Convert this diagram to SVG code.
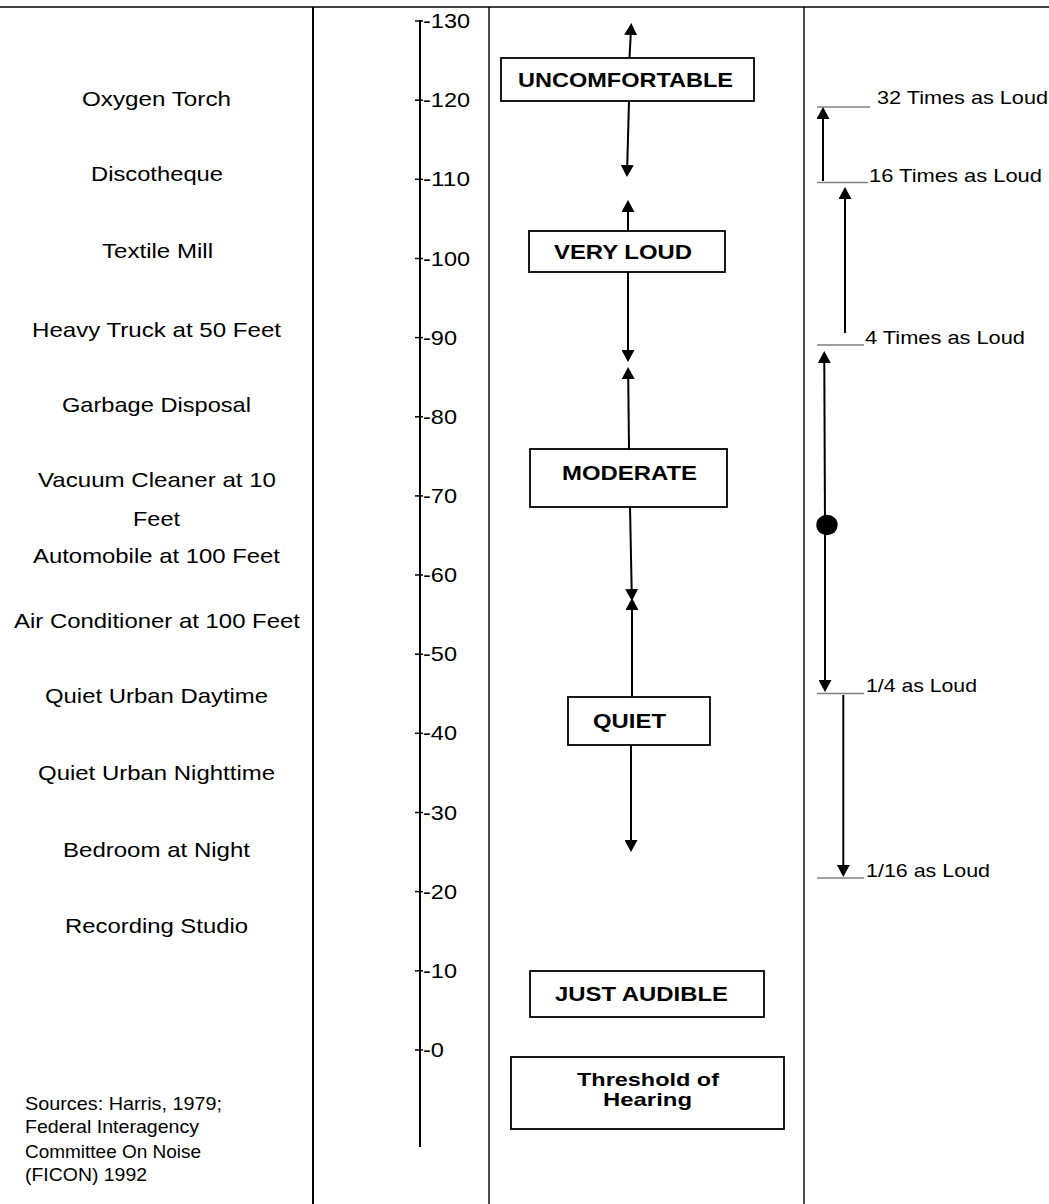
<svg xmlns="http://www.w3.org/2000/svg" width="1049" height="1204" viewBox="0 0 1049 1204">
<defs>
<style>
.t{font-family:"Liberation Sans",Arial,sans-serif;font-size:21px;fill:#000}
.lbl{text-anchor:middle}
.s{font-size:18.5px}
.b{font-family:"Liberation Sans",Arial,sans-serif;font-size:20.5px;font-weight:bold;text-anchor:middle;fill:#000}
.b2{font-size:19px}
.box{fill:#fff;stroke:#000;stroke-width:1.8}
.frame{stroke:#000;fill:none}
.arr{stroke:#000;stroke-width:2;fill:none;marker-end:url(#ah)}
.ref{stroke:#808080;stroke-width:1.4}
.tick{stroke:#000;stroke-width:1.5}
</style>
<marker id="ah" markerUnits="userSpaceOnUse" markerWidth="12" markerHeight="13" viewBox="0 0 12 13" refX="2" refY="6.5" orient="auto">
<path d="M0,0 L12,6.5 L0,13 Z" fill="#000"/>
</marker>
</defs>
<rect width="1049" height="1204" fill="#fff"/>

<g id="frame">
<line class="frame" x1="0" y1="7" x2="1049" y2="7" stroke-width="1.6"/>
<line class="frame" x1="313" y1="7" x2="313" y2="1204" stroke-width="2"/>
<line class="frame" x1="489" y1="7" x2="489" y2="1204" stroke-width="1.4"/>
<line class="frame" x1="804" y1="7" x2="804" y2="1204" stroke-width="1.4"/>
</g>

<g id="sources">
<text class="t lbl" x="156.5" y="106" textLength="149" lengthAdjust="spacingAndGlyphs">Oxygen Torch</text>
<text class="t lbl" x="157" y="181" textLength="132" lengthAdjust="spacingAndGlyphs">Discotheque</text>
<text class="t lbl" x="157.5" y="258" textLength="111" lengthAdjust="spacingAndGlyphs">Textile Mill</text>
<text class="t lbl" x="156.5" y="337" textLength="249" lengthAdjust="spacingAndGlyphs">Heavy Truck at 50 Feet</text>
<text class="t lbl" x="156.5" y="412" textLength="189" lengthAdjust="spacingAndGlyphs">Garbage Disposal</text>
<text class="t lbl" x="157" y="487" textLength="238" lengthAdjust="spacingAndGlyphs">Vacuum Cleaner at 10</text>
<text class="t lbl" x="156.5" y="526" textLength="47" lengthAdjust="spacingAndGlyphs">Feet</text>
<text class="t lbl" x="156.5" y="563" textLength="247" lengthAdjust="spacingAndGlyphs">Automobile at 100 Feet</text>
<text class="t lbl" x="157" y="628" textLength="286" lengthAdjust="spacingAndGlyphs">Air Conditioner at 100 Feet</text>
<text class="t lbl" x="156.5" y="703" textLength="223" lengthAdjust="spacingAndGlyphs">Quiet Urban Daytime</text>
<text class="t lbl" x="156.5" y="780" textLength="237" lengthAdjust="spacingAndGlyphs">Quiet Urban Nighttime</text>
<text class="t lbl" x="156.5" y="857" textLength="187" lengthAdjust="spacingAndGlyphs">Bedroom at Night</text>
<text class="t lbl" x="156.5" y="933" textLength="183" lengthAdjust="spacingAndGlyphs">Recording Studio</text>
</g>

<g id="citation">
<text class="t s" x="25" y="1110" textLength="197" lengthAdjust="spacingAndGlyphs">Sources: Harris, 1979;</text>
<text class="t s" x="25" y="1133" textLength="174" lengthAdjust="spacingAndGlyphs">Federal Interagency</text>
<text class="t s" x="25" y="1158" textLength="176" lengthAdjust="spacingAndGlyphs">Committee On Noise</text>
<text class="t s" x="25" y="1181" textLength="122" lengthAdjust="spacingAndGlyphs">(FICON) 1992</text>
</g>

<g id="scale">
<line x1="420" y1="20" x2="420" y2="1147" stroke="#000" stroke-width="2"/>
<g class="tick">
<line x1="415" y1="21" x2="423" y2="21"/>
<line x1="415" y1="100.2" x2="423" y2="100.2"/>
<line x1="415" y1="179.3" x2="423" y2="179.3"/>
<line x1="415" y1="258.5" x2="423" y2="258.5"/>
<line x1="415" y1="337.6" x2="423" y2="337.6"/>
<line x1="415" y1="416.8" x2="423" y2="416.8"/>
<line x1="415" y1="495.9" x2="423" y2="495.9"/>
<line x1="415" y1="575" x2="423" y2="575"/>
<line x1="415" y1="654.2" x2="423" y2="654.2"/>
<line x1="415" y1="733.3" x2="423" y2="733.3"/>
<line x1="415" y1="812.5" x2="423" y2="812.5"/>
<line x1="415" y1="891.6" x2="423" y2="891.6"/>
<line x1="415" y1="970.8" x2="423" y2="970.8"/>
<line x1="415" y1="1050" x2="423" y2="1050"/>
</g>
<text class="t" x="423" y="28" textLength="47" lengthAdjust="spacingAndGlyphs">-130</text>
<text class="t" x="423" y="107.2" textLength="47" lengthAdjust="spacingAndGlyphs">-120</text>
<text class="t" x="423" y="186.3" textLength="47" lengthAdjust="spacingAndGlyphs">-110</text>
<text class="t" x="423" y="265.5" textLength="47" lengthAdjust="spacingAndGlyphs">-100</text>
<text class="t" x="423" y="344.6" textLength="34" lengthAdjust="spacingAndGlyphs">-90</text>
<text class="t" x="423" y="423.8" textLength="34" lengthAdjust="spacingAndGlyphs">-80</text>
<text class="t" x="423" y="502.9" textLength="34" lengthAdjust="spacingAndGlyphs">-70</text>
<text class="t" x="423" y="582" textLength="34" lengthAdjust="spacingAndGlyphs">-60</text>
<text class="t" x="423" y="661.2" textLength="34" lengthAdjust="spacingAndGlyphs">-50</text>
<text class="t" x="423" y="740.3" textLength="34" lengthAdjust="spacingAndGlyphs">-40</text>
<text class="t" x="423" y="819.5" textLength="34" lengthAdjust="spacingAndGlyphs">-30</text>
<text class="t" x="423" y="898.6" textLength="34" lengthAdjust="spacingAndGlyphs">-20</text>
<text class="t" x="423" y="977.8" textLength="34" lengthAdjust="spacingAndGlyphs">-10</text>
<text class="t" x="423" y="1057" textLength="21" lengthAdjust="spacingAndGlyphs">-0</text>
</g>

<g id="uncomfortable">
<rect class="box" x="501" y="58" width="253" height="43"/>
<text class="b" x="625.5" y="87" textLength="215" lengthAdjust="spacingAndGlyphs">UNCOMFORTABLE</text>
</g>
<g id="very-loud">
<rect class="box" x="529" y="231" width="196" height="41"/>
<text class="b" x="623" y="259" textLength="138" lengthAdjust="spacingAndGlyphs">VERY LOUD</text>
</g>
<g id="moderate">
<rect class="box" x="530" y="449" width="197" height="58"/>
<text class="b" x="629.5" y="480" textLength="135" lengthAdjust="spacingAndGlyphs">MODERATE</text>
</g>
<g id="quiet">
<rect class="box" x="568" y="697" width="142" height="48"/>
<text class="b" x="629.5" y="728" textLength="73" lengthAdjust="spacingAndGlyphs">QUIET</text>
</g>
<g id="just-audible">
<rect class="box" x="530" y="971" width="234" height="46"/>
<text class="b" x="641.5" y="1001" textLength="173" lengthAdjust="spacingAndGlyphs">JUST AUDIBLE</text>
</g>
<g id="threshold">
<rect class="box" x="511" y="1057" width="273" height="72"/>
<text class="b b2" x="648" y="1086" textLength="142" lengthAdjust="spacingAndGlyphs">Threshold of</text>
<text class="b b2" x="647.5" y="1105.5" textLength="89" lengthAdjust="spacingAndGlyphs">Hearing</text>
</g>

<g id="loudness-labels">
<line class="ref" x1="817" y1="107" x2="870" y2="107"/>
<line class="ref" x1="817" y1="182.5" x2="868" y2="182.5"/>
<line class="ref" x1="817" y1="345" x2="864" y2="345"/>
<line class="ref" x1="817" y1="693.5" x2="864" y2="693.5"/>
<line class="ref" x1="817" y1="878" x2="864" y2="878"/>
<text class="t s" x="877" y="104" textLength="171" lengthAdjust="spacingAndGlyphs">32 Times as Loud</text>
<text class="t s" x="869" y="182" textLength="173" lengthAdjust="spacingAndGlyphs">16 Times as Loud</text>
<text class="t s" x="865" y="344" textLength="160" lengthAdjust="spacingAndGlyphs">4 Times as Loud</text>
<text class="t s" x="866" y="692" textLength="111" lengthAdjust="spacingAndGlyphs">1/4 as Loud</text>
<text class="t s" x="866" y="877" textLength="124" lengthAdjust="spacingAndGlyphs">1/16 as Loud</text>
</g>

<g id="connectors">
<line class="arr" x1="629.5" y1="58" x2="630.8" y2="33"/>
<line class="arr" x1="629" y1="101" x2="627.2" y2="167"/>
<line class="arr" x1="628" y1="231" x2="628" y2="210"/>
<line class="arr" x1="628" y1="272" x2="628" y2="352"/>
<line class="arr" x1="629" y1="449" x2="628.2" y2="377"/>
<line class="arr" x1="630" y1="507" x2="631.7" y2="591"/>
<line class="arr" x1="632" y1="697" x2="632" y2="608"/>
<line class="arr" x1="631" y1="745" x2="631" y2="842"/>
<line class="arr" x1="823" y1="181" x2="823" y2="117"/>
<line class="arr" x1="845" y1="333" x2="845" y2="197"/>
<line class="arr" x1="825" y1="525" x2="824.3" y2="361"/>
<line class="arr" x1="825" y1="525" x2="825" y2="682"/>
<line class="arr" x1="843.3" y1="695" x2="843.3" y2="867"/>
<ellipse cx="827" cy="525" rx="10.7" ry="10.2" fill="#000"/>
</g>
</svg>
